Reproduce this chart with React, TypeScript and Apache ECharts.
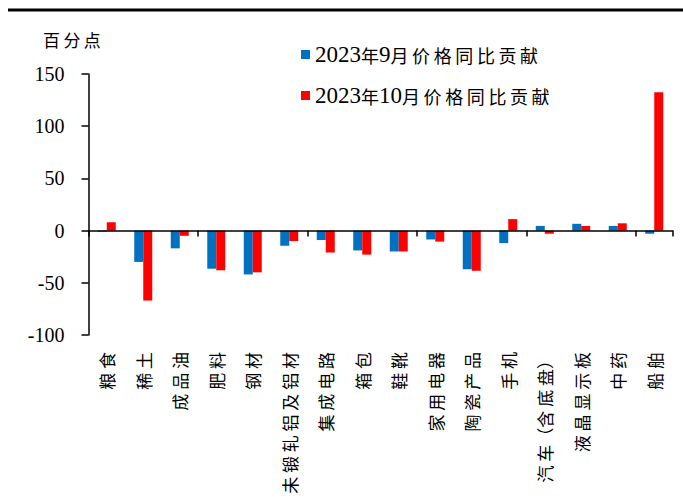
import React, { useEffect, useRef } from "react";
import * as echarts from "echarts";

const categories = [
  "粮食", "稀土", "成品油", "肥料", "钢材", "未锻轧铝及铝材", "集成电路", "箱包",
  "鞋靴", "家用电器", "陶瓷产品", "手机", "汽车（含底盘）", "液晶显示板", "中药", "船舶",
];
const sepValues = [-1, -30, -17, -36.5, -42, -14.5, -9, -19, -20, -8.5, -37, -12, 4.5, 6.5, 4.5, -3];
const octValues = [8, -67, -5, -38, -40, -10, -21, -23, -20, -10.5, -38.5, 11, -3, 4.5, 7, 132.5];
const seriesNames = ["2023年9月价格同比贡献", "2023年10月价格同比贡献"];
const yTicks = { min: -100, max: 150, interval: 50 };

const CJK = "Noto Sans CJK SC";
const SERIF = "Liberation Serif";

function spaced(s: string) {
  let out = "";
  const chars = Array.from(s);
  chars.forEach((c, i) => {
    out += c;
    const next = chars[i + 1];
    if (next && c !== "（" && next !== "）" && next !== "（") out += " ";
  });
  return out;
}

function legendRich(name: string) {
  const parts = name.match(/[0-9]+|[^0-9]+/g) || [];
  return parts
    .map((p) => (/^[0-9]+$/.test(p) ? `{d|${p}}` : `{c|${Array.from(p).join("\u2009")}}`))
    .join("");
}

export default function App() {
  const ref = useRef<HTMLDivElement>(null);
  useEffect(() => {
    if (!ref.current) return;
    const chart = echarts.init(ref.current, undefined, { renderer: "svg" });
    const rich = {
      d: { fontFamily: SERIF, fontSize: 23, color: "#000", lineHeight: 26 },
      c: { fontFamily: CJK, fontSize: 18, color: "#000", lineHeight: 26 },
    };
    const legendBase = {
      left: 301,
      padding: 0,
      orient: "vertical",
      icon: "rect",
      itemWidth: 9,
      itemHeight: 9,
      itemGap: 0,
      formatter: (n: string) => legendRich(n),
      textStyle: { rich, padding: [0, 0, 0, 0] },
    };
    chart.setOption({
      animation: false,
      backgroundColor: "#fff",
      grid: { left: 88.5, right: 10.5, top: 74, bottom: 168, containLabel: false },
      legend: [
        { ...legendBase, data: [seriesNames[0]], top: 43 },
        { ...legendBase, data: [seriesNames[1]], top: 84 },
      ],
      xAxis: [
        {
          type: "category",
          data: categories,
          position: "bottom",
          z: 5,
          axisLine: { onZero: true, lineStyle: { color: "#000", width: 1.5 } },
          axisTick: { show: true, length: 6, lineStyle: { color: "#000", width: 1.5 } },
          axisLabel: { show: false },
          splitLine: { show: false },
        },
        {
          type: "category",
          data: categories,
          position: "bottom",
          axisLine: { show: false, onZero: false },
          axisTick: { show: false },
          axisLabel: {
            show: true,
            rotate: 90,
            margin: 17,
            interval: 0,
            fontFamily: CJK,
            fontSize: 17,
            color: "#000",
            formatter: (v: string) => spaced(v),
          },
          splitLine: { show: false },
        },
      ],
      yAxis: {
        type: "value",
        min: yTicks.min,
        max: yTicks.max,
        interval: yTicks.interval,
        axisLine: { show: true, lineStyle: { color: "#000", width: 1.5 } },
        axisTick: { show: true, length: 7, lineStyle: { color: "#000", width: 1.5 } },
        axisLabel: { fontFamily: SERIF, fontSize: 20, color: "#000", margin: 24 },
        splitLine: { show: false },
      },
      series: [
        {
          name: seriesNames[0],
          type: "bar",
          data: sepValues,
          barWidth: 9,
          barGap: "0%",
          itemStyle: { color: "#0070C0" },
        },
        {
          name: seriesNames[1],
          type: "bar",
          data: octValues,
          barWidth: 9,
          barGap: "0%",
          itemStyle: { color: "#FF0000" },
        },
      ],
      graphic: [
        {
          type: "line",
          shape: { x1: 8, y1: 10, x2: 683, y2: 10 },
          style: { stroke: "#000", lineWidth: 3 },
        },
        {
          type: "text",
          left: 43,
          top: 31,
          style: {
            text: "百\u2009分\u2009点",
            font: `17px "${CJK}"`,
            fill: "#000",
          },
        },
      ],
    });
    return () => chart.dispose();
  }, []);
  return (
    <div
      ref={ref}
      style={{ position: "fixed", left: 0, top: 0, width: 683, height: 503 }}
    />
  );
}
